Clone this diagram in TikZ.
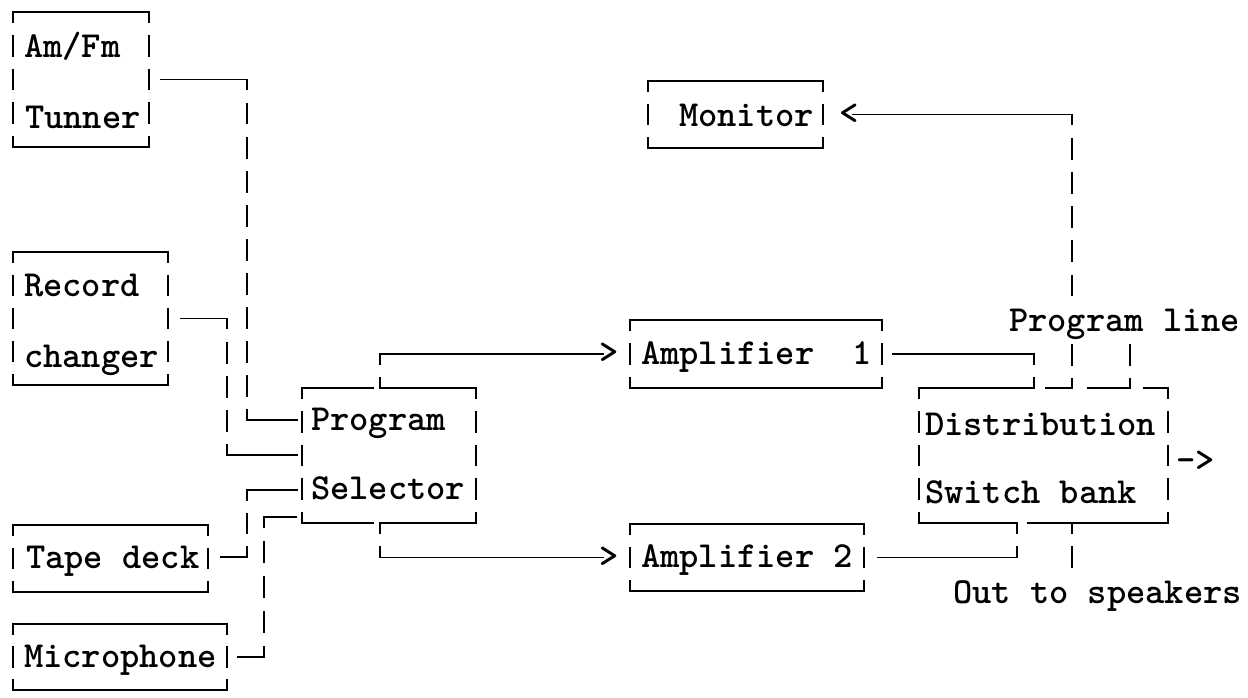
\documentclass[tikz,border=0pt]{standalone}
\usepackage{fontspec}
\tikzset{
  hl/.style={line width=1.9pt, line cap=rect},
  vl/.style={line width=1.9pt},
  frame/.style={rectangle, draw=none, inner sep=0pt, outer sep=0pt},
  lbl/.style={anchor=base west, inner sep=0pt, outer sep=0pt,
    font={\ttfamily\bfseries\fontsize{36.7}{40}\selectfont}},
}
% vertical "pipe" line: #1 start, #2 end, #3 number of row intervals
\newcommand\vseg[3]{%
  \path #1; \pgfgetlastxy{\vsxa}{\vsya}%
  \path #2; \pgfgetlastxy{\vsxb}{\vsyb}%
  \pgfmathsetmacro\vsP{abs(\vsyb-\vsya)/#3}%
  \pgfmathsetmacro\vsOn{0.64*\vsP}%
  \pgfmathsetmacro\vsOff{0.36*\vsP}%
  \pgfmathsetmacro\vsPh{0.32*\vsP}%
  \draw[vl, dash pattern=on \vsOn pt off \vsOff pt, dash phase=\vsPh pt] #1 -- #2;}
% vertical pipe line with explicit period #3 and phase fraction #4
\newcommand\vsegp[4]{%
  \pgfmathsetmacro\vsOn{0.64*#3}%
  \pgfmathsetmacro\vsOff{0.36*#3}%
  \pgfmathsetmacro\vsPh{#4*#3}%
  \draw[vl, dash pattern=on \vsOn pt off \vsOff pt, dash phase=\vsPh pt] #1 -- #2;}
\newcommand\frameit[2]{%
  \draw[hl] (#1.north west) -- (#1.north east);
  \draw[hl] (#1.south west) -- (#1.south east);
  \vseg{(#1.north west)}{(#1.south west)}{#2}
  \vseg{(#1.north east)}{(#1.south east)}{#2}}
\begin{document}
\begin{tikzpicture}[x=1pt,y=-1pt]
\useasboundingbox[fill=white] (0,0) rectangle (1248,697);
% ---- box outlines (nodes) ----
\node[frame, minimum width=136pt, minimum height=135pt] (tuner) at (81,79.5) {};
\node[frame, minimum width=155pt, minimum height=133pt] (record) at (90.5,318.5) {};
\node[frame, minimum width=195pt, minimum height=67pt] (tape) at (110.5,558.5) {};
\node[frame, minimum width=214pt, minimum height=66pt] (mic) at (120,657) {};
\node[frame, minimum width=174pt, minimum height=135pt] (prog) at (389,455.5) {};
\node[frame, minimum width=175pt, minimum height=67pt] (monitor) at (735.5,114.5) {};
\node[frame, minimum width=252pt, minimum height=68pt] (amp1) at (756,354) {};
\node[frame, minimum width=234pt, minimum height=67pt] (amp2) at (747,557.5) {};
\node[frame, minimum width=249pt, minimum height=135pt] (dist) at (1043.5,455.5) {};
\frameit{tuner}{4}
\frameit{record}{4}
\frameit{tape}{2}
\frameit{mic}{2}
\frameit{monitor}{2}
\frameit{amp1}{2}
\frameit{amp2}{2}
% program selector frame (gaps where the outputs leave)
\coordinate (pa) at (380,388);
\coordinate (pb) at (380,523);
\draw[hl] (prog.north west) -- ([xshift=-7pt]pa);
\draw[hl] (pa) -- (prog.north east);
\draw[hl] (prog.south west) -- ([xshift=-7pt]pb);
\draw[hl] (pb) -- (prog.south east);
\vseg{(prog.north west)}{(prog.south west)}{4}
\vseg{(prog.north east)}{(prog.south east)}{4}
% distribution frame
\coordinate (da) at (1034,388);
\coordinate (db) at (1072,388);
\coordinate (dc) at (1130,388);
\coordinate (dd) at (1017,523);
\coordinate (de) at (1072,523);
\draw[hl] (dist.north west) -- (da);
\draw[hl] (1046,388) -- (db);
\draw[hl] (1088,388) -- (dc);
\draw[hl] (1144,388) -- (dist.north east);
\draw[hl] (dist.south west) -- (dd);
\draw[hl] (1028,523) -- (dist.south east);
\vseg{(dist.north west)}{(dist.south west)}{4}
\vseg{(dist.north east)}{(dist.south east)}{4}
% ---- texts ----
\node[lbl] (tunerA) at (24,57) {Am/Fm};
\node[lbl] (tunerB) at (25,128) {Tunner};
\node[lbl] (recA) at (24,296) {Record};
\node[lbl] (recB) at (24,367) {changer};
\node[lbl] (tapeA) at (26,568) {Tape deck};
\node[lbl] (micA) at (24,667) {Microphone};
\node[lbl] (progA) at (311,430) {Program};
\node[lbl] (progB) at (311,499) {Selector};
\node[lbl] (monA) at (679,126) {Monitor};
\node[lbl] (amp1A) at (641,364) {Amplifier~~1};
\node[lbl] (amp2A) at (641,567) {Amplifier 2};
\node[lbl] (distA) at (925,435) {Distribution};
\node[lbl] (distB) at (925,503) {Switch bank};
\node[lbl] (plin) at (1009,331) {Program line};
\node[lbl] (outs) at (953,603) {Out to speakers};
\node[lbl] (arr1) at (599,363) {>};
\node[lbl] (arr2) at (599,567) {>};
\node[lbl] (arrm) at (839,124) {<};
\node[lbl] (arro) at (1176,471) {->};
% ---- connectors ----
% tuner -> program selector
\coordinate (t1) at (247,79.5);
\coordinate (t2) at (247,420);
\draw[hl] ([xshift=12pt]tuner.east) -- (t1);
\vseg{(t1)}{(t2)}{10}
\draw[hl] (t2) -- ([xshift=-5pt]prog.west |- t2);
% record changer -> program selector
\coordinate (r1) at (227,318.5);
\coordinate (r2) at (227,455);
\draw[hl] ([xshift=13pt]record.east) -- (r1);
\vseg{(r1)}{(r2)}{4}
\draw[hl] (r2) -- ([xshift=-5pt]prog.west |- r2);
% tape deck -> program selector
\coordinate (k1) at (247,557);
\coordinate (k2) at (247,490);
\draw[hl] ([xshift=13pt]tape.east |- k1) -- (k1);
\vseg{(k1)}{(k2)}{2}
\draw[hl] (k2) -- ([xshift=-5pt]prog.west |- k2);
% microphone -> program selector
\coordinate (m1) at (264,657);
\coordinate (m2) at (264,517);
\draw[hl] ([xshift=11pt]mic.east) -- (m1);
\vseg{(m1)}{(m2)}{4}
\draw[hl] (m2) -- ([xshift=-6pt]prog.west |- m2);
% program selector -> amplifier 1 / 2
\coordinate (p1) at (380,354);
\coordinate (p2) at (380,557.5);
\vseg{(pa)}{(p1)}{1}
\draw[hl] (p1) -- ([xshift=-27pt]amp1.west);
\vseg{(pb)}{(p2)}{1}
\draw[hl] (p2) -- ([xshift=-27pt]amp2.west);
% amplifiers -> distribution
\coordinate (a1) at (1034,354);
\coordinate (a2) at (1017,557.5);
\draw[hl] ([xshift=11pt]amp1.east) -- (a1);
\vseg{(a1)}{(da)}{1}
\draw[hl] ([xshift=14pt]amp2.east) -- (a2);
\vseg{(a2)}{(dd)}{1}
% program line -> monitor
\coordinate (n1) at (1072,114.5);
\coordinate (n2) at (1072,297);
\draw[hl] (n1) -- ([xshift=30pt]monitor.east);
\vsegp{(n1)}{(n2)}{34.2}{0.32}
\coordinate (q1) at (1072,344);
\coordinate (q2) at (1130,344);
\vsegp{(q1)}{(db)}{34}{0}
\vsegp{(q2)}{(dc)}{34}{0}
% out to speakers
\coordinate (o1) at (1072,568);
\vsegp{(de)}{(o1)}{34}{0.32}
\end{tikzpicture}
\end{document}
